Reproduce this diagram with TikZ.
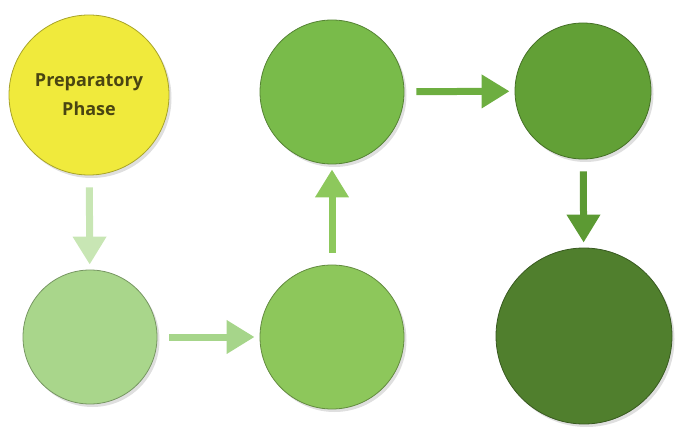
\documentclass[tikz,border=0pt]{standalone}
\usepackage{fontspec}
\setsansfont{Open Sans}
\usetikzlibrary{arrows.meta,shadows}
\definecolor{prepyellow}{HTML}{F0EA3C}
\definecolor{greenone}{HTML}{A9D68B}
\definecolor{greentwo}{HTML}{8DC75B}
\definecolor{greenthree}{HTML}{79BB4A}
\definecolor{greenfour}{HTML}{62A036}
\definecolor{greenfive}{HTML}{507F2D}
\definecolor{arrowone}{HTML}{C8E6B4}
\definecolor{arrowtwo}{HTML}{A6D58A}
\definecolor{arrowthree}{HTML}{8DC85C}
\definecolor{arrowfour}{HTML}{6DAE40}
\definecolor{arrowfive}{HTML}{5C9A33}
\definecolor{preptext}{HTML}{4A4512}
\begin{document}
\begin{tikzpicture}
[x=1pt,y=-1pt,
  phasedecorate/.style={shape=circle,inner sep=0pt,fill=#1,draw=#1!70!black,line width=0.8pt,%
    drop shadow={shadow xshift=2.5pt,shadow yshift=-3pt,opacity=0.25}},%
  arrowdecorate/.style={-{Triangle[width=32pt,length=28pt]},line width=7pt,draw=#1,%
    shorten <=12pt,shorten >=5pt},%
  labeldecorate/.style={align=center,text=preptext,font=\sffamily\bfseries\fontsize{18}{29}\selectfont}]
\useasboundingbox (0,0) rectangle (685,430);
%% nodes or circles
\foreach \nodename/\x/\y/\r/\col in {prep/89/95/80/prepyellow,
  s1/90/337/67/greenone, s2/332/337/72/greentwo, s3/332/92/72/greenthree,
  s4/583/91/68/greenfour, s5/584/336/88/greenfive} {
  \node (\nodename) at (\x,\y) [phasedecorate=\col,minimum size=2*\r pt] {};
}
\node (preplabel) at (prep) [labeldecorate] {Preparatory\\Phase};
%% arrows between circles
\path
\foreach \startnode/\endnode/\col in {prep/s1/arrowone, s1/s2/arrowtwo,
  s2/s3/arrowthree, s3/s4/arrowfour, s4/s5/arrowfive} {
  (\startnode) edge[arrowdecorate=\col] (\endnode)
};
\end{tikzpicture}
\end{document}
